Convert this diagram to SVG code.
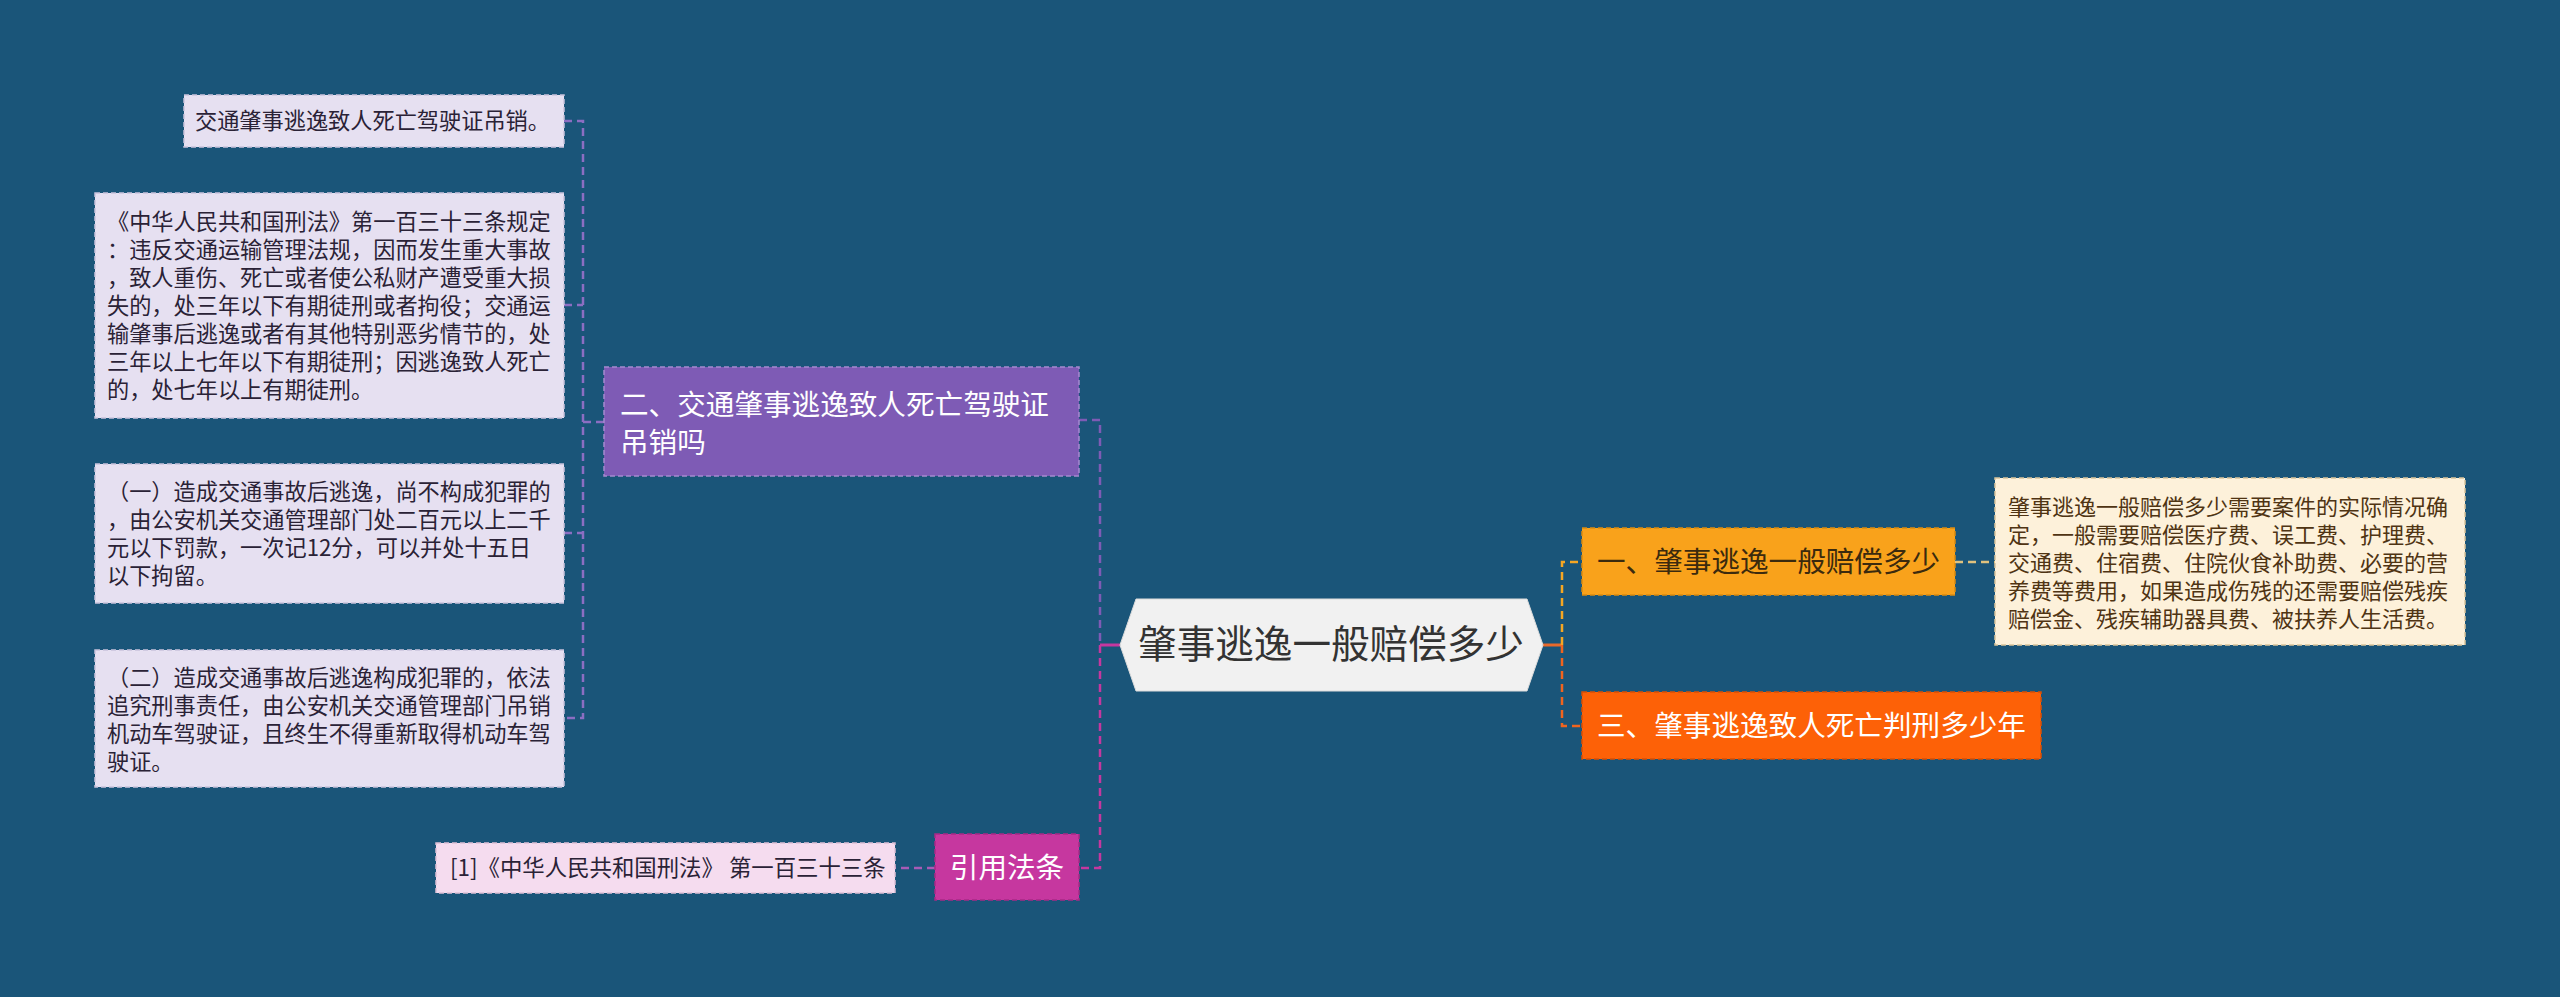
<svg xmlns="http://www.w3.org/2000/svg" width="2560" height="997" viewBox="0 0 2560 997">
<style>
text{font-family:"Noto Sans CJK SC","Noto Sans",sans-serif;}
.d22{font-size:22.2px;fill:#2a2236;}
.lav{fill:#e6e0f1;stroke:#c9c2dc;stroke-width:1.5;stroke-dasharray:5 3;}
.c{fill:none;stroke-width:2.5;stroke-dasharray:8 5;}
</style>
<rect width="2560" height="997" fill="#1a5579"/>
<g id="connectors">
<path class="c" d="M564 121 H583 V718 H564 M564 305 H583 M564 533 H583 M583 422 H604" stroke="#8b6ec2" stroke-width="2"/>
<path class="c" d="M1079 420 H1100 V645" stroke="#7e5bb5"/>
<path class="c" d="M1100 645 V868 H1079" stroke="#c6379f"/>
<path d="M1100 645 H1120" stroke="#c6379f" stroke-width="3" fill="none"/>
<path class="c" d="M935 868 H895" stroke="#a85bb6"/>
<path d="M1543 645 H1562" stroke="#e8692a" stroke-width="3" fill="none"/>
<path class="c" d="M1562 645 V562 H1582" stroke="#f5a623"/>
<path class="c" d="M1562 645 V726 H1582" stroke="#f0641e"/>
<path class="c" d="M1955 562 H1995" stroke="#e0c27e"/>
</g>
<g id="center">
<polygon points="1120,645 1136,599 1527,599 1543,645 1527,691 1136,691" fill="#f1f1f1" stroke="#dcdcdc" stroke-width="1"/>
<text x="1331" y="658" font-size="38.6" fill="#333" text-anchor="middle">肇事逃逸一般赔偿多少</text>
</g>
<g id="n1">
<rect class="lav" x="184" y="95" width="380" height="52"/>
<text class="d22" x="195" y="129">交通肇事逃逸致人死亡驾驶证吊销。</text>
</g>
<g id="n2">
<rect class="lav" x="95" y="193" width="469" height="225"/>
<text class="d22" x="107" y="230">《中华人民共和国刑法》第一百三十三条规定</text>
<text class="d22" x="107" y="258">：违反交通运输管理法规，因而发生重大事故</text>
<text class="d22" x="107" y="286">，致人重伤、死亡或者使公私财产遭受重大损</text>
<text class="d22" x="107" y="314">失的，处三年以下有期徒刑或者拘役；交通运</text>
<text class="d22" x="107" y="342">输肇事后逃逸或者有其他特别恶劣情节的，处</text>
<text class="d22" x="107" y="370">三年以上七年以下有期徒刑；因逃逸致人死亡</text>
<text class="d22" x="107" y="398">的，处七年以上有期徒刑。</text>
</g>
<g id="n3">
<rect class="lav" x="95" y="464" width="469" height="139"/>
<text class="d22" x="107" y="500">（一）造成交通事故后逃逸，尚不构成犯罪的</text>
<text class="d22" x="107" y="528">，由公安机关交通管理部门处二百元以上二千</text>
<text class="d22" x="107" y="556">元以下罚款，一次记12分，可以并处十五日</text>
<text class="d22" x="107" y="584">以下拘留。</text>
</g>
<g id="n4">
<rect class="lav" x="95" y="650" width="469" height="137"/>
<text class="d22" x="107" y="686">（二）造成交通事故后逃逸构成犯罪的，依法</text>
<text class="d22" x="107" y="714">追究刑事责任，由公安机关交通管理部门吊销</text>
<text class="d22" x="107" y="742">机动车驾驶证，且终生不得重新取得机动车驾</text>
<text class="d22" x="107" y="770">驶证。</text>
</g>
<g id="n-purple">
<rect x="604" y="367" width="475" height="109" fill="#7e5bb5" stroke="#a58ad0" stroke-width="1.5" stroke-dasharray="5 3"/>
<text x="620" y="415" font-size="28.6" fill="#fff">二、交通肇事逃逸致人死亡驾驶证</text>
<text x="620" y="453" font-size="28.6" fill="#fff">吊销吗</text>
</g>
<g id="n-pink">
<rect x="935" y="834" width="144" height="66" fill="#c6379f" stroke="#a82a86" stroke-width="1.5" stroke-dasharray="5 3"/>
<text x="1007" y="878" font-size="28.6" fill="#fff" text-anchor="middle">引用法条</text>
</g>
<g id="n-ref">
<rect x="436" y="843" width="459" height="50" fill="#f5dcef" stroke="#ddc0d6" stroke-width="1.5" stroke-dasharray="5 3"/>
<text x="450" y="876" font-size="22.4" fill="#2a2236">[1]《中华人民共和国刑法》 第一百三十三条</text>
</g>
<g id="n-orange">
<rect x="1582" y="528" width="373" height="67" fill="#f9a21b" stroke="#d98a10" stroke-width="1.5" stroke-dasharray="5 3"/>
<text x="1597" y="572" font-size="28.6" fill="#3b2a0e">一、肇事逃逸一般赔偿多少</text>
</g>
<g id="n-red">
<rect x="1582" y="692" width="459" height="67" fill="#fd6107" stroke="#d94f04" stroke-width="1.5" stroke-dasharray="5 3"/>
<text x="1597" y="736" font-size="28.6" fill="#fff">三、肇事逃逸致人死亡判刑多少年</text>
</g>
<g id="n-desc">
<rect x="1995" y="478" width="470" height="167" fill="#fdf1da" stroke="#d9c49a" stroke-width="1.5" stroke-dasharray="5 3"/>
<text x="2008" y="515" font-size="22" fill="#4f3413">肇事逃逸一般赔偿多少需要案件的实际情况确</text>
<text x="2008" y="543" font-size="22" fill="#4f3413">定，一般需要赔偿医疗费、误工费、护理费、</text>
<text x="2008" y="571" font-size="22" fill="#4f3413">交通费、住宿费、住院伙食补助费、必要的营</text>
<text x="2008" y="599" font-size="22" fill="#4f3413">养费等费用，如果造成伤残的还需要赔偿残疾</text>
<text x="2008" y="627" font-size="22" fill="#4f3413">赔偿金、残疾辅助器具费、被扶养人生活费。</text>
</g>
</svg>
